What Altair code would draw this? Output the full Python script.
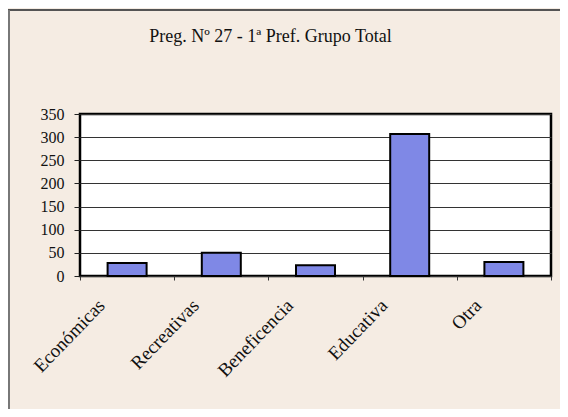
import altair as alt
import pandas as pd

categories = ["Económicas", "Recreativas", "Beneficencia", "Educativa", "Otra"]
values = [28, 50, 23, 307, 30]
y_ticks = [0, 50, 100, 150, 200, 250, 300, 350]
title_text = "Preg. Nº 27 - 1ª Pref. Grupo Total"

df = pd.DataFrame({"cat": categories, "val": values})

font = "Liberation Serif"

bars = alt.Chart(df).mark_bar(
    color="#7f88e6", stroke="black", strokeWidth=2, size=39
).encode(
    x=alt.X("cat:N", sort=categories, title=None,
            scale=alt.Scale(paddingInner=0, paddingOuter=0),
            axis=alt.Axis(labelAngle=-46, labelAlign="right", labelBaseline="middle",
                          labelPadding=22, labelOffset=-26, labelFont=font, labelFontSize=19,
                          labelColor="#111", tickBand="extent", tickColor="#333",
                          tickSize=4, domain=False, grid=False)),
    y=alt.Y("val:Q", title=None,
            scale=alt.Scale(domain=[0, 350], nice=False),
            axis=alt.Axis(values=y_ticks, labelFont=font, labelFontSize=16,
                          labelColor="#111", tickColor="#222", tickSize=6,
                          labelPadding=10, domain=False, grid=True,
                          gridColor="#333", gridWidth=1.2, gridOpacity=1)),
)

frame_top = alt.Chart(df).mark_rule(color="#555", strokeWidth=1.5).encode(
    x=alt.value(-72), x2=alt.value(490), y=alt.value(-104)
)
frame_left = alt.Chart(df).mark_rule(color="#777", strokeWidth=1.2).encode(
    x=alt.value(-71), y=alt.value(-104), y2=alt.value(300)
)

chart = alt.layer(bars, frame_top, frame_left).properties(
    width=471, height=162,
    autosize=alt.AutoSizeParams(type="none"),
    padding={"left": 72, "top": 106, "right": 9, "bottom": 133},
    background="#f5ece3",
    title=alt.TitleParams(title_text, font=font, fontSize=18, fontWeight="normal",
                          color="#111", anchor="middle", frame="group",
                          dx=-45, offset=-37),
).configure_view(fill="white", stroke="black", strokeWidth=2.5)

chart.save("out.html", embed_options={"renderer": "svg", "actions": False})
